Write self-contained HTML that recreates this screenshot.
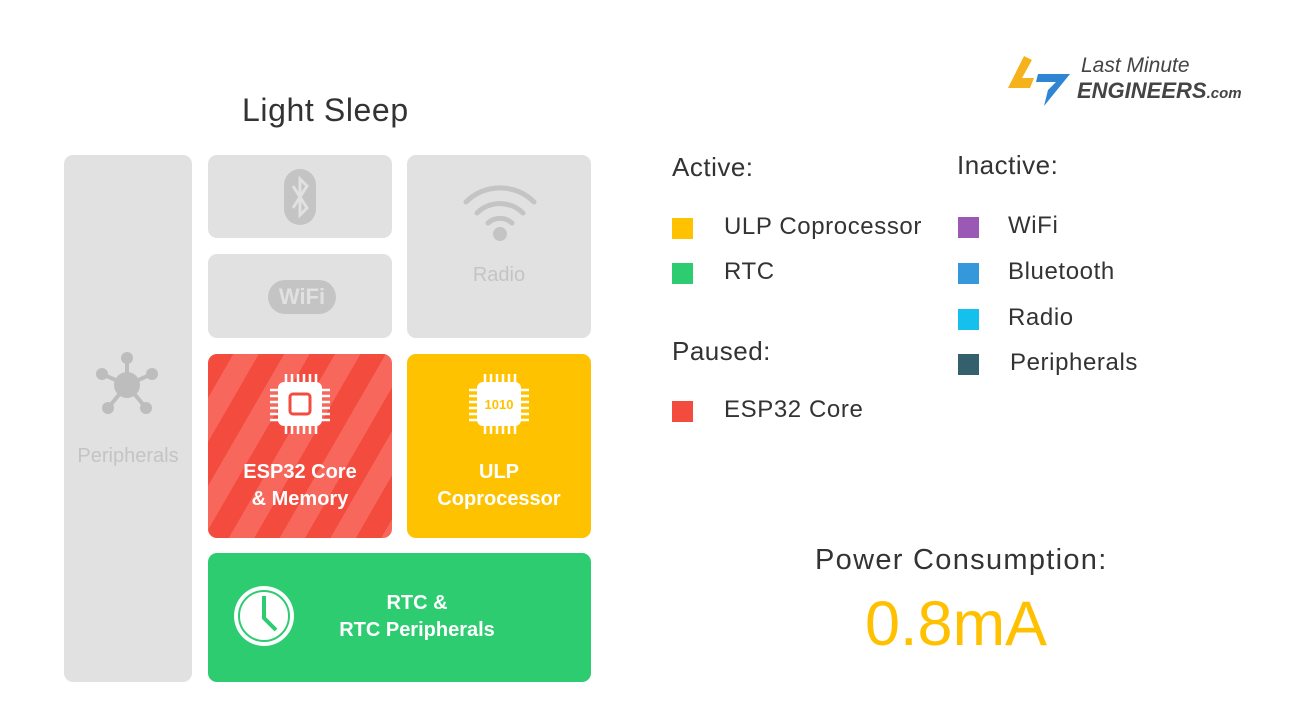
<!DOCTYPE html>
<html><head><meta charset="utf-8"><style>
body{margin:0;width:1314px;height:726px;background:#fff;position:relative;overflow:hidden;font-family:"Liberation Sans",sans-serif}
.a{position:absolute}
.box{position:absolute;border-radius:9px;background:#e1e1e1}
.t{position:absolute;color:#333;white-space:nowrap}
.l{font-size:24px;letter-spacing:0.6px}
.h{font-size:26px;letter-spacing:0.5px}
.sq{position:absolute;width:21px;height:21px}
.lbl{position:absolute;color:#fff;text-align:center;font-weight:bold;font-size:20px;line-height:27px}
</style></head><body>
<div class="t" style="left:242px;top:92px;font-size:32px;letter-spacing:0.6px">Light Sleep</div>

<div class="box" style="left:64px;top:155px;width:128px;height:527px"></div>
<svg class="a" style="left:94px;top:352px" width="66" height="66" viewBox="0 0 66 66">
<g stroke="#bdbdbd" stroke-width="4"><line x1="33" y1="33" x2="33" y2="6"/><line x1="33" y1="33" x2="8" y2="22"/><line x1="33" y1="33" x2="58" y2="22"/><line x1="33" y1="33" x2="14" y2="56"/><line x1="33" y1="33" x2="52" y2="56"/></g>
<g fill="#bdbdbd"><circle cx="33" cy="33" r="13"/><circle cx="33" cy="6" r="6"/><circle cx="8" cy="22" r="6"/><circle cx="58" cy="22" r="6"/><circle cx="14" cy="56" r="6"/><circle cx="52" cy="56" r="6"/></g></svg>
<div class="lbl" style="left:64px;top:443px;width:128px;color:#c4c4c4;font-weight:normal">Peripherals</div>

<div class="box" style="left:208px;top:155px;width:184px;height:83px"></div>
<svg class="a" style="left:283px;top:168px" width="34" height="58" viewBox="0 0 34 58"><rect x="1" y="1" width="32" height="56" rx="16" fill="#c4c4c4"/><path d="M10 18 L24 40 L17 47 L17 11 L24 18 L10 40" stroke="#e1e1e1" stroke-width="3" fill="none"/></svg>

<div class="box" style="left:208px;top:254px;width:184px;height:84px"></div>
<div class="a" style="left:268px;top:280px;width:68px;height:34px;border-radius:17px;background:#c4c4c4;color:#e1e1e1;font-weight:bold;font-size:22px;text-align:center;line-height:34px">WiFi</div>

<div class="box" style="left:407px;top:155px;width:184px;height:183px"></div>
<svg class="a" style="left:462px;top:180px" width="76" height="62" viewBox="0 0 76 62"><g fill="none" stroke="#c4c4c4" stroke-width="5" stroke-linecap="round"><path d="M4 22 A48 48 0 0 1 72 22"/><path d="M15 33 A33 33 0 0 1 61 33"/><path d="M26 43 A18 18 0 0 1 50 43"/></g><circle cx="38" cy="54" r="7" fill="#c4c4c4"/></svg>
<div class="lbl" style="left:407px;top:262px;width:184px;color:#c4c4c4;font-weight:normal">Radio</div>

<div class="box" style="left:208px;top:354px;width:184px;height:184px;background:repeating-linear-gradient(120deg,#f44b3f 0 22px,#f7675c 22px 44px)"></div>
<svg class="a" style="left:268px;top:372px" width="64" height="64" viewBox="0 0 64 64"><g stroke="#fff" stroke-width="2.5"><path d="M18 2v10M24 2v10M30 2v10M36 2v10M42 2v10M48 2v10M18 52v10M24 52v10M30 52v10M36 52v10M42 52v10M48 52v10M2 18h10M2 24h10M2 30h10M2 36h10M2 42h10M2 48h10M52 18h10M52 24h10M52 30h10M52 36h10M52 42h10M52 48h10"/></g><rect x="10" y="10" width="44" height="44" rx="6" fill="#fff"/><rect x="22" y="22" width="20" height="20" rx="3" fill="none" stroke="#f44b3f" stroke-width="3"/></svg>
<div class="lbl" style="left:208px;top:459px;width:184px">ESP32 Core<br>&amp; Memory</div>

<div class="box" style="left:407px;top:354px;width:184px;height:184px;background:#ffc200"></div>
<svg class="a" style="left:467px;top:372px" width="64" height="64" viewBox="0 0 64 64"><g stroke="#fff" stroke-width="2.5"><path d="M18 2v10M24 2v10M30 2v10M36 2v10M42 2v10M48 2v10M18 52v10M24 52v10M30 52v10M36 52v10M42 52v10M48 52v10M2 18h10M2 24h10M2 30h10M2 36h10M2 42h10M2 48h10M52 18h10M52 24h10M52 30h10M52 36h10M52 42h10M52 48h10"/></g><rect x="10" y="10" width="44" height="44" rx="6" fill="#fff"/><text x="32" y="37" text-anchor="middle" font-size="13" font-weight="bold" fill="#ffc200" font-family="Liberation Sans">1010</text></svg>
<div class="lbl" style="left:407px;top:459px;width:184px">ULP<br>Coprocessor</div>

<div class="box" style="left:208px;top:553px;width:383px;height:129px;background:#2ecc71"></div>
<svg class="a" style="left:232px;top:584px" width="64" height="64" viewBox="0 0 64 64"><circle cx="32" cy="32" r="30" fill="#fff"/><circle cx="32" cy="32" r="25" fill="none" stroke="#2ecc71" stroke-width="2"/><path d="M32 12V34L44 46" stroke="#2ecc71" stroke-width="4" fill="none"/></svg>
<div class="lbl" style="left:300px;top:590px;width:234px">RTC &amp;<br>RTC Peripherals</div>

<div class="t h" style="left:672px;top:152px">Active:</div>
<div class="sq" style="left:672px;top:218px;background:#ffc200"></div><div class="t l" style="left:724px;top:213px">ULP Coprocessor</div>
<div class="sq" style="left:672px;top:263px;background:#2ecc71"></div><div class="t l" style="left:724px;top:258px">RTC</div>
<div class="t h" style="left:672px;top:336px">Paused:</div>
<div class="sq" style="left:672px;top:401px;background:#f44b3f"></div><div class="t l" style="left:724px;top:396px">ESP32 Core</div>

<div class="t h" style="left:957px;top:150px">Inactive:</div>
<div class="sq" style="left:958px;top:217px;background:#9b59b6"></div><div class="t l" style="left:1008px;top:212px">WiFi</div>
<div class="sq" style="left:958px;top:263px;background:#3498db"></div><div class="t l" style="left:1008px;top:258px">Bluetooth</div>
<div class="sq" style="left:958px;top:309px;background:#16c0ec"></div><div class="t l" style="left:1008px;top:304px">Radio</div>
<div class="sq" style="left:958px;top:354px;background:#34606e"></div><div class="t l" style="left:1010px;top:349px">Peripherals</div>

<div class="t" style="left:815px;top:544px;font-size:29px;letter-spacing:1.3px">Power Consumption:</div>
<div class="t" style="left:865px;top:588px;font-size:63px;color:#ffc000">0.8mA</div>

<svg class="a" style="left:1004px;top:50px" width="70" height="56" viewBox="0 0 70 56"><path d="M20 6 L4 38 H26 L30 28 H18 L28 10Z" fill="#f6b21b"/><path d="M34 24 H66 L40 56 L44 40 L52 32 H32Z" fill="#2e86d3"/></svg>
<div class="t" style="left:1081px;top:54px;font-size:21px;font-style:italic;color:#444">Last Minute</div>
<div class="t" style="left:1077px;top:78px;font-size:22px;font-style:italic;font-weight:bold;color:#444">ENGINEERS<span style="font-size:15px">.com</span></div>
</body></html>
